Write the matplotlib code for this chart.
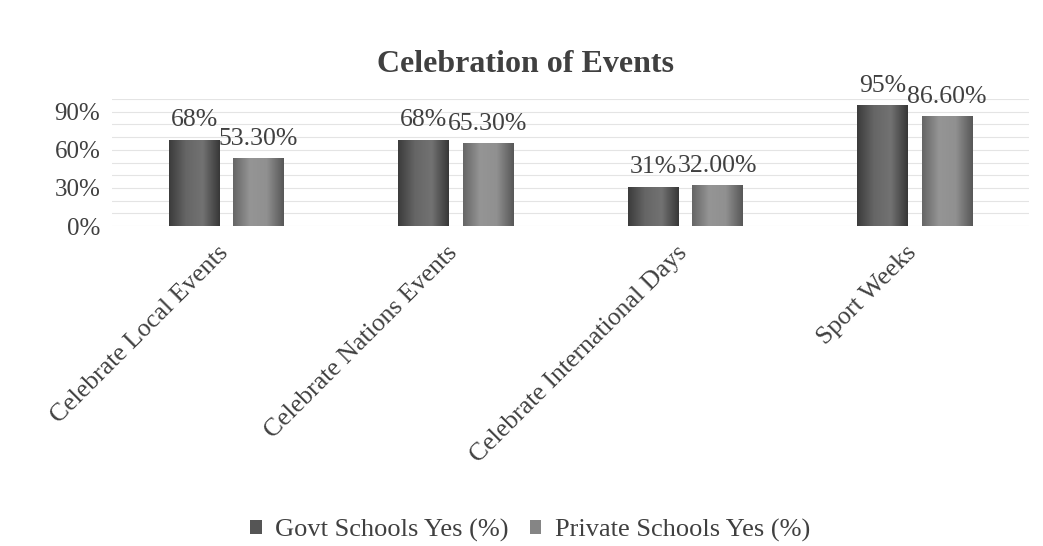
import numpy as np
import matplotlib.pyplot as plt
from matplotlib.colors import LinearSegmentedColormap

plt.rcParams['font.family'] = ['Liberation Serif', 'DejaVu Serif']

# data
categories = ['Celebrate Local Events', 'Celebrate Nations Events',
              'Celebrate International Days', 'Sport Weeks']
govt = [0.68, 0.68, 0.31, 0.95]
private = [0.533, 0.653, 0.32, 0.866]
govt_labels = ['68%', '68%', '31%', '95%']
private_labels = ['53.30%', '65.30%', '32.00%', '86.60%']
series_names = ['Govt Schools Yes (%)', 'Private Schools Yes (%)']
yticks = [0, 0.3, 0.6, 0.9]
ytick_labels = ['0%', '30%', '60%', '90%']

fig = plt.figure(figsize=(10.43, 5.46), dpi=100)
ax = fig.add_axes([0.107, 0.586, 0.880, 0.2326])

x = np.arange(len(categories))
w = 0.22
off = 0.14

# grey shading for the bars (dark edge, lighter middle)
cmap_g = LinearSegmentedColormap.from_list('g', ['#3c3c3c', '#666666', '#727272', '#383838'])
cmap_p = LinearSegmentedColormap.from_list('p', ['#666666', '#959595', '#909090', '#585858'])
grad = np.linspace(0, 1, 64).reshape(1, -1)

b1 = ax.bar(x - off, govt, w, color='#555555', label=series_names[0], zorder=2)
b2 = ax.bar(x + off, private, w, color='#858585', label=series_names[1], zorder=2)

for bars, cmap in ((b1, cmap_g), (b2, cmap_p)):
    for r in bars:
        x0, y0 = r.get_x(), r.get_y()
        im = ax.imshow(grad, cmap=cmap, aspect='auto', zorder=3,
                       extent=(x0, x0 + r.get_width(), y0, y0 + r.get_height()))
        im.set_clip_path(r)

for bars, labs in ((b1, govt_labels), (b2, private_labels)):
    for r, t in zip(bars, labs):
        ax.annotate(t, (r.get_x() + r.get_width() / 2, r.get_height()),
                    xytext=(0, 6), textcoords='offset points',
                    ha='center', va='bottom', fontsize=18.5, color='#404040')

ax.set_xlim(-0.5, len(categories) - 0.5)
ax.set_ylim(0, 1.0)
ax.set_yticks(yticks)
ax.set_yticklabels(ytick_labels, fontsize=18, color='#404040')
ax.set_yticks(np.arange(0, 1.01, 0.1), minor=True)
ax.grid(axis='y', which='both', color='#e4e4e4', linewidth=0.8, zorder=0)
ax.set_xticks(x)
ax.set_xticklabels([])
# rotated category labels, placed by hand so they end right under the group
for xi, name in zip(x, categories):
    ax.annotate(name, (xi, 0), xycoords=('data', 'axes fraction'),
                xytext=(-1, -17), textcoords='offset points',
                rotation=45, rotation_mode='anchor', ha='right', va='center',
                fontsize=18.5, color='#404040')
ax.tick_params(axis='x', length=0)
ax.tick_params(axis='y', length=0, pad=8)
ax.tick_params(axis='y', which='minor', length=0)
for s in ax.spines.values():
    s.set_visible(False)

fig.text(0.504, 0.882, 'Celebration of Events', ha='center', va='center',
         fontsize=23, fontweight='bold', color='#404040')

fig.legend(handles=[b1, b2], labels=series_names, loc='center',
           bbox_to_anchor=(0.508, 0.029), ncol=2, frameon=False, fontsize=19,
           handlelength=0.45, handleheight=0.45, handletextpad=0.5, columnspacing=0.8,
           labelcolor='#404040')

fig.savefig('out.png', dpi=100, facecolor='white')
